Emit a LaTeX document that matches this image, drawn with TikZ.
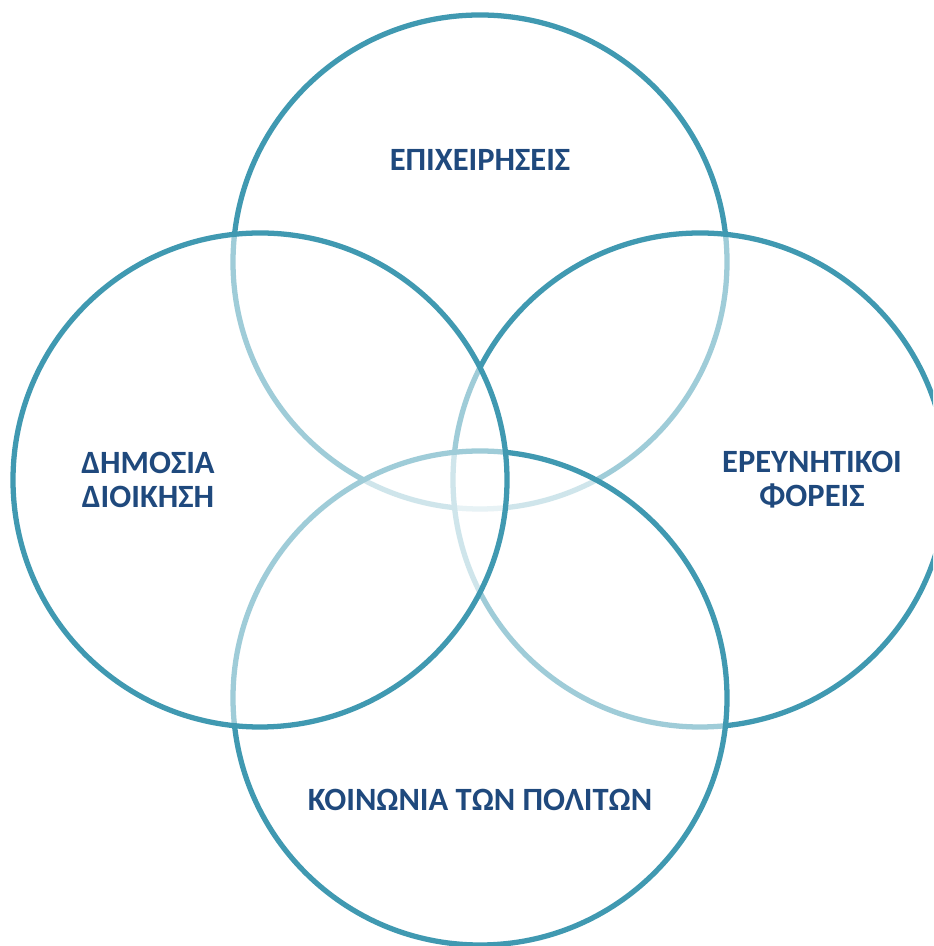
\documentclass[tikz,border=0pt]{standalone}
\usepackage{fontspec}
\setmainfont{Carlito}
\definecolor{ringblue}{RGB}{64,153,177}
\definecolor{textblue}{RGB}{31,73,125}

\begin{document}
\begin{tikzpicture}[x=0.02cm, y=0.02cm,
  ring/.style={draw=ringblue, line width=3pt, fill=white, fill opacity=0.5},
  venntext/.style={text=textblue, font=\fontsize{18.5}{19.5}\selectfont\bfseries, align=center}]
\useasboundingbox (0,0) rectangle (933,946);
\clip (0,0) rectangle (933,946);
\draw[ring] (480,684) circle [radius=247];
\draw[ring] (700,466) circle [radius=247];
\draw[ring] (480,248) circle [radius=247];
\draw[ring] (260,466) circle [radius=247];
\node[venntext] (business) at (480,786) {ΕΠΙΧΕΙΡΗΣΕΙΣ};
\node[venntext] (research) at (812,466) {ΕΡΕΥΝΗΤΙΚΟΙ\\ΦΟΡΕΙΣ};
\node[venntext] (citizens) at (480,146) {ΚΟΙΝΩΝΙΑ ΤΩΝ ΠΟΛΙΤΩΝ};
\node[venntext] (admin) at (148,466) {ΔΗΜΟΣΙΑ\\ΔΙΟΙΚΗΣΗ};
\end{tikzpicture}
\end{document}
